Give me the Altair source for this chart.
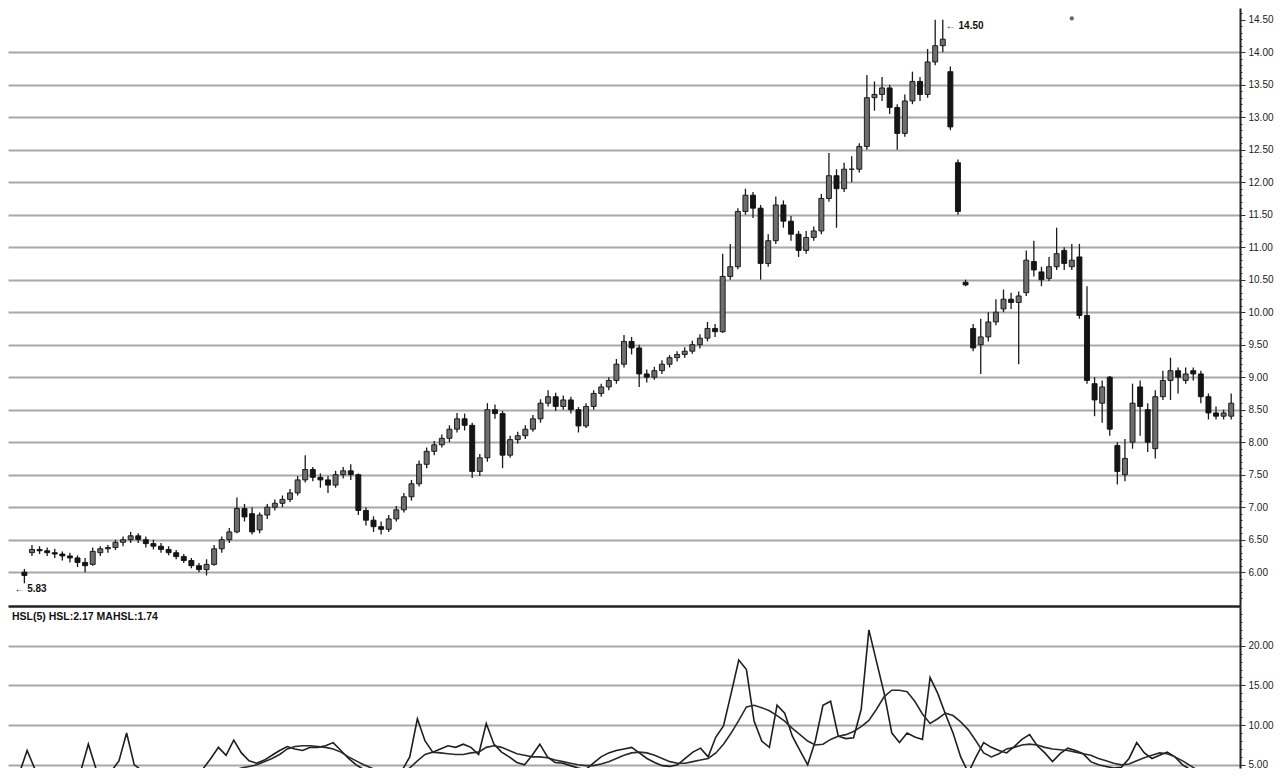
import altair as alt
import pandas as pd

# ---- price data (open, high, low, close per bar) ----
opens = [6.00, 6.30, 6.35, 6.33, 6.30, 6.28, 6.25, 6.22, 6.15, 6.12,
         6.30, 6.36, 6.38, 6.46, 6.50, 6.56, 6.50, 6.44, 6.40, 6.35,
         6.30, 6.24, 6.18, 6.10, 6.04, 6.12, 6.36, 6.50, 6.62, 6.98,
         6.90, 6.65, 6.88, 7.00, 7.06, 7.12, 7.22, 7.42, 7.58, 7.46,
         7.42, 7.34, 7.50, 7.56, 7.50, 6.95, 6.80, 6.70, 6.66, 6.82,
         6.96, 7.16, 7.36, 7.66, 7.86, 7.96, 8.06, 8.20, 8.36, 8.26,
         7.55, 7.76, 8.50, 8.44, 7.80, 8.04, 8.10, 8.20, 8.36, 8.60,
         8.70, 8.55, 8.65, 8.50, 8.25, 8.55, 8.75, 8.85, 8.95, 9.20,
         9.55, 9.45, 9.05, 9.00, 9.10, 9.20, 9.30, 9.35, 9.40, 9.50,
         9.60, 9.75, 9.70, 10.55, 10.70, 11.55, 11.80, 11.60, 10.75, 11.10,
         11.65, 11.40, 11.20, 10.95, 11.15, 11.25, 11.75, 12.10, 11.90, 12.20,
         12.20, 12.55, 13.30, 13.35, 13.45, 13.15, 12.75, 13.25, 13.55, 13.35,
         13.85, 14.10, 13.70, 12.30, 10.46, 9.75, 9.50, 9.62, 9.85, 10.05,
         10.20, 10.15, 10.30, 10.78, 10.62, 10.52, 10.70, 10.95, 10.70, 10.85,
         9.95, 8.90, 8.60, 9.00, 7.95, 7.50, 8.00, 8.85, 8.50, 7.90,
         8.70, 8.95, 9.10, 8.95, 9.10, 9.05, 8.70, 8.45, 8.40, 8.40]
highs = [6.05, 6.42, 6.40, 6.38, 6.36, 6.32, 6.30, 6.26, 6.22, 6.38,
         6.40, 6.42, 6.50, 6.55, 6.62, 6.60, 6.55, 6.50, 6.45, 6.40,
         6.34, 6.28, 6.22, 6.14, 6.20, 6.42, 6.55, 6.68, 7.15, 7.05,
         7.00, 6.92, 7.05, 7.12, 7.18, 7.28, 7.48, 7.80, 7.62, 7.52,
         7.48, 7.56, 7.62, 7.66, 7.52, 7.00, 6.86, 6.78, 6.88, 7.02,
         7.22, 7.42, 7.72, 7.92, 8.02, 8.12, 8.26, 8.45, 8.44, 8.30,
         7.82, 8.60, 8.58, 8.48, 8.10, 8.16, 8.26, 8.42, 8.66, 8.80,
         8.76, 8.72, 8.70, 8.54, 8.60, 8.80, 8.90, 9.00, 9.28, 9.65,
         9.62, 9.50, 9.12, 9.16, 9.26, 9.34, 9.40, 9.46, 9.56, 9.66,
         9.85, 9.82, 10.90, 11.05, 11.60, 11.90, 11.85, 11.65, 11.20, 11.78,
         11.72, 11.48, 11.25, 11.25, 11.32, 11.82, 12.45, 12.20, 12.30, 12.40,
         12.60, 13.65, 13.55, 13.62, 13.50, 13.20, 13.35, 13.70, 13.62, 14.05,
         14.50, 14.50, 13.78, 12.35, 10.50, 9.82, 9.90, 10.00, 10.20, 10.35,
         10.30, 10.32, 10.95, 11.10, 10.70, 10.85, 11.30, 11.00, 11.05, 11.05,
         10.40, 9.00, 8.95, 9.02, 8.00, 8.05, 8.90, 8.95, 8.60, 8.80,
         9.10, 9.30, 9.15, 9.15, 9.15, 9.10, 8.75, 8.55, 8.50, 8.75]
lows = [5.83, 6.25, 6.28, 6.25, 6.22, 6.18, 6.15, 6.08, 6.00, 6.10,
        6.25, 6.30, 6.34, 6.40, 6.45, 6.45, 6.38, 6.35, 6.30, 6.26,
        6.20, 6.14, 6.06, 6.00, 5.95, 6.10, 6.30, 6.45, 6.60, 6.78,
        6.58, 6.60, 6.82, 6.95, 7.00, 7.08, 7.18, 7.38, 7.40, 7.30,
        7.22, 7.30, 7.44, 7.42, 6.88, 6.72, 6.62, 6.58, 6.62, 6.78,
        6.92, 7.10, 7.32, 7.60, 7.80, 7.92, 8.00, 8.15, 8.18, 7.45,
        7.48, 7.70, 8.36, 7.60, 7.76, 7.98, 8.05, 8.16, 8.30, 8.55,
        8.48, 8.50, 8.44, 8.15, 8.22, 8.50, 8.70, 8.80, 8.90, 9.15,
        9.35, 8.85, 8.92, 8.96, 9.05, 9.15, 9.24, 9.30, 9.36, 9.44,
        9.55, 9.62, 9.68, 10.50, 10.66, 11.50, 11.45, 10.50, 10.70, 11.05,
        11.30, 11.10, 10.85, 10.90, 11.10, 11.20, 11.70, 11.30, 11.85, 12.00,
        12.15, 12.50, 13.10, 13.25, 13.05, 12.50, 12.70, 13.20, 13.25, 13.30,
        13.80, 14.00, 12.80, 11.50, 10.40, 9.40, 9.05, 9.55, 9.80, 10.00,
        10.05, 9.20, 10.25, 10.55, 10.40, 10.48, 10.65, 10.65, 10.65, 9.90,
        8.90, 8.40, 8.30, 8.10, 7.35, 7.40, 7.90, 8.10, 7.85, 7.75,
        8.65, 8.65, 8.75, 8.90, 8.95, 8.60, 8.35, 8.35, 8.35, 8.35]
closes = [5.95, 6.35, 6.33, 6.30, 6.28, 6.25, 6.22, 6.15, 6.10, 6.32,
          6.36, 6.38, 6.46, 6.50, 6.56, 6.50, 6.44, 6.40, 6.35, 6.30,
          6.24, 6.18, 6.10, 6.04, 6.12, 6.36, 6.50, 6.62, 6.98, 6.85,
          6.62, 6.88, 7.00, 7.06, 7.12, 7.22, 7.42, 7.58, 7.46, 7.42,
          7.34, 7.50, 7.56, 7.50, 6.95, 6.80, 6.70, 6.66, 6.82, 6.96,
          7.16, 7.36, 7.66, 7.86, 7.96, 8.06, 8.20, 8.36, 8.26, 7.55,
          7.76, 8.50, 8.44, 7.80, 8.04, 8.10, 8.20, 8.36, 8.60, 8.70,
          8.55, 8.65, 8.50, 8.25, 8.55, 8.75, 8.85, 8.95, 9.20, 9.55,
          9.45, 9.05, 9.00, 9.10, 9.20, 9.30, 9.35, 9.40, 9.50, 9.60,
          9.75, 9.70, 10.55, 10.70, 11.55, 11.80, 11.60, 10.75, 11.10, 11.65,
          11.40, 11.20, 10.95, 11.15, 11.25, 11.75, 12.10, 11.90, 12.20, 12.20,
          12.55, 13.30, 13.35, 13.45, 13.15, 12.75, 13.25, 13.55, 13.35, 13.85,
          14.10, 14.20, 12.85, 11.55, 10.42, 9.45, 9.62, 9.85, 10.00, 10.20,
          10.15, 10.25, 10.80, 10.65, 10.50, 10.70, 10.90, 10.75, 10.80, 9.95,
          8.95, 8.65, 8.85, 8.20, 7.55, 7.75, 8.60, 8.55, 8.00, 8.70,
          8.95, 9.10, 9.00, 9.05, 9.05, 8.70, 8.45, 8.40, 8.45, 8.60]

# ---- turnover indicator (HSL and its 5-bar average) ----
hsl = [4.0, 6.8, 4.5, 4.2, 4.0, 3.8, 3.9, 3.8, 4.2, 7.6,
       4.5, 4.0, 4.2, 5.5, 9.0, 5.0, 4.3, 4.0, 3.8, 3.6,
       3.5, 3.6, 3.8, 4.0, 4.5, 5.8, 7.2, 6.2, 8.1, 6.5,
       5.5, 5.2, 5.6, 6.2, 6.8, 7.3, 7.0, 6.8, 7.2, 7.2,
       7.4, 7.8, 6.8, 5.8, 5.0, 4.4, 4.0, 3.6, 3.5, 3.8,
       4.3, 6.0, 10.8, 8.0, 6.6, 7.0, 7.4, 7.2, 7.6, 7.2,
       6.3, 10.2, 7.6, 6.6, 6.0, 5.3, 5.0, 6.2, 7.6, 6.0,
       5.3, 5.2, 4.9, 4.6, 4.4, 5.2, 6.0, 6.5, 6.8, 7.0,
       7.2, 6.5, 5.8, 5.3, 4.9, 4.8, 5.0, 5.8, 6.6, 7.1,
       6.0, 8.5, 9.9, 14.0, 18.2, 17.0, 10.5, 8.0, 7.2, 12.5,
       11.5, 8.6, 6.8, 5.0, 8.0, 12.5, 13.0, 8.6, 8.3, 8.4,
       12.0, 22.0, 18.0, 14.0, 9.0, 7.8, 9.0, 8.5, 8.2, 16.0,
       14.0, 11.4, 9.0, 6.0, 4.0, 6.0, 7.8, 7.2, 6.8, 6.5,
       7.3, 8.2, 8.8, 7.4, 6.5, 5.4, 6.4, 7.1, 6.8, 6.4,
       5.4, 5.0, 4.8, 4.6, 4.7, 5.8, 7.8, 6.5, 5.8, 6.2,
       6.6, 6.0, 5.0, 4.4, 3.6, 2.0, 1.6, 1.5, 1.45, 2.17]
mahsl = [4.0, 4.2, 4.2, 4.3, 4.1, 4.0, 3.9, 3.9, 4.0, 4.3,
         4.3, 4.2, 4.2, 4.3, 4.3, 4.2, 4.2, 4.1, 4.0, 3.9,
         3.8, 3.7, 3.7, 3.8, 3.9, 4.1, 4.2, 4.3, 4.3, 4.6,
         4.8, 5.0, 5.4, 5.8, 6.3, 7.0, 7.3, 7.4, 7.4, 7.3,
         7.2, 7.0, 6.6, 6.0, 5.5, 5.0, 4.6, 4.2, 4.0, 3.9,
         4.0, 4.6, 5.5, 6.3, 6.6, 6.5, 6.4, 6.3, 6.3, 6.5,
         6.6, 7.2, 7.4, 7.2, 6.8, 6.4, 6.2, 6.0, 6.0, 5.9,
         5.6, 5.4, 5.2, 5.0, 4.9, 4.9, 5.1, 5.4, 5.8, 6.2,
         6.5, 6.6, 6.5, 6.2, 5.8, 5.4, 5.2, 5.2, 5.4, 5.6,
         5.8, 6.5, 7.6, 9.0, 10.6, 12.3, 12.5, 12.2, 11.8, 11.2,
         10.5, 9.6, 8.8, 8.0, 7.5, 7.6, 8.2, 8.6, 8.8, 9.2,
         9.8, 10.6, 12.0, 13.6, 14.4, 14.4, 14.2, 13.0, 11.4, 10.2,
         10.8, 11.5, 11.2, 10.4, 9.4, 8.0, 6.5, 6.0, 6.4, 7.0,
         7.2, 7.5, 7.6, 7.5, 7.2, 7.0, 6.9, 6.8, 6.6, 6.4,
         6.2, 5.8, 5.5, 5.2, 5.0, 5.1, 5.5, 5.9, 6.2, 6.5,
         6.4, 6.0, 5.5, 4.9, 4.3, 3.6, 2.9, 2.3, 1.9, 1.74]

# ---- axis tick labels / annotations ----
price_ticks = [round(5.6 + 0.1 * k, 1) for k in range(91)]
vol_ticks = list(range(5, 25))
header_text = "HSL(5) HSL:2.17 MAHSL:1.74"
high_label = "\u2190 14.50"
low_label = "\u2190 5.83"
marker_bar = 138
marker_price = 14.52

n = len(closes)
df = pd.DataFrame({"idx": list(range(n)), "open": opens, "high": highs,
                   "low": lows, "close": closes, "hsl": hsl, "mahsl": mahsl})

W = 1232
FONT = "Liberation Sans"
xs = alt.Scale(domain=[-1.5, n - 0.5], nice=False, zero=False)

major_test = "abs(datum.value*2 - round(datum.value*2)) < 0.001"
price_axis = alt.Axis(
    orient="right", values=price_ticks, title=None,
    labelExpr=f"({major_test}) && datum.value > 5.8 ? format(datum.value, '.2f') : ''",
    labelFont=FONT, labelFontSize=10, labelColor="#222", labelPadding=3,
    domainColor="#222", domainWidth=2, tickColor="#333",
    tickSize={"condition": {"test": major_test, "value": 5}, "value": 2},
    grid=True, gridColor="#a8a8a8", gridWidth=1.8,
    gridOpacity={"condition": {"test": f"({major_test}) && datum.value < 14.3", "value": 1}, "value": 0},
)
ys = alt.Scale(domain=[5.48, 14.68], nice=False, zero=False)

x_top = alt.X("idx:Q", scale=xs,
              axis=alt.Axis(orient="bottom", title=None, labels=False, ticks=False, minExtent=0,
                            grid=False, domain=True, domainColor="#222", domainWidth=2.5))

base = alt.Chart(df)
wicks = base.mark_rule(color="#1a1a1a", strokeWidth=1.3).encode(
    x=x_top, y=alt.Y("low:Q", scale=ys, axis=price_axis), y2="high:Q")
bodies = base.mark_bar(size=5, stroke="#111", strokeWidth=0.9).encode(
    x=x_top, y=alt.Y("open:Q", scale=ys, axis=price_axis), y2="close:Q",
    fill=alt.condition("datum.close >= datum.open", alt.value("#6e6e6e"), alt.value("#151515")))

hi_df = pd.DataFrame({"idx": [121], "price": [14.50], "label": [high_label]})
lo_df = pd.DataFrame({"idx": [0], "price": [5.83], "label": [low_label]})
hi_text = alt.Chart(hi_df).mark_text(align="left", baseline="middle", font=FONT, fontSize=10,
                                     fontWeight="bold", color="#111", dx=3, dy=6).encode(
    x=x_top, y=alt.Y("price:Q", scale=ys, axis=price_axis), text="label:N")
lo_text = alt.Chart(lo_df).mark_text(align="left", baseline="middle", font=FONT, fontSize=10,
                                     fontWeight="bold", color="#111", dx=-10, dy=6).encode(
    x=x_top, y=alt.Y("price:Q", scale=ys, axis=price_axis), text="label:N")
mk = pd.DataFrame({"idx": [marker_bar], "price": [marker_price]})
dot = alt.Chart(mk).mark_point(filled=True, size=18, color="#222").encode(
    x=x_top, y=alt.Y("price:Q", scale=ys, axis=price_axis))

price_panel = alt.layer(wicks, bodies, hi_text, lo_text, dot).properties(width=W, height=598)

# ---- lower panel ----
major5 = "datum.value % 5 === 0"
vol_axis = alt.Axis(
    orient="right", values=vol_ticks, title=None,
    labelExpr=f"{major5} ? format(datum.value, '.2f') : ''",
    labelFont=FONT, labelFontSize=10, labelColor="#222", labelPadding=3,
    domainColor="#222", domainWidth=2, tickColor="#333",
    tickSize={"condition": {"test": major5, "value": 5}, "value": 2},
    grid=True, gridColor="#a8a8a8", gridWidth=1.8,
    gridOpacity={"condition": {"test": major5, "value": 1}, "value": 0},
)
vs = alt.Scale(domain=[4.6, 25], nice=False, zero=False)
x_bot = alt.X("idx:Q", scale=xs, axis=None)
vb = alt.Chart(df)
l1 = vb.mark_line(color="#1e1e1e", strokeWidth=1.6, clip=True).encode(
    x=x_bot, y=alt.Y("hsl:Q", scale=vs, axis=vol_axis))
l2 = vb.mark_line(color="#2a2a2a", strokeWidth=1.6, clip=True).encode(
    x=x_bot, y=alt.Y("mahsl:Q", scale=vs, axis=vol_axis))
hdr = alt.Chart(pd.DataFrame({"t": [header_text]})).mark_text(
    align="left", baseline="middle", font=FONT, fontSize=10.5, fontWeight="bold", color="#111").encode(
    x=alt.value(4), y=alt.value(11), text="t:N")
vol_panel = alt.layer(l1, l2, hdr).properties(width=W, height=162)

chart = alt.vconcat(price_panel, vol_panel, spacing=0).properties(
    padding=0, background="white"
).configure_view(strokeWidth=0).configure_concat(spacing=0)

chart.save("out.html", embed_options={"renderer": "svg", "actions": False})
